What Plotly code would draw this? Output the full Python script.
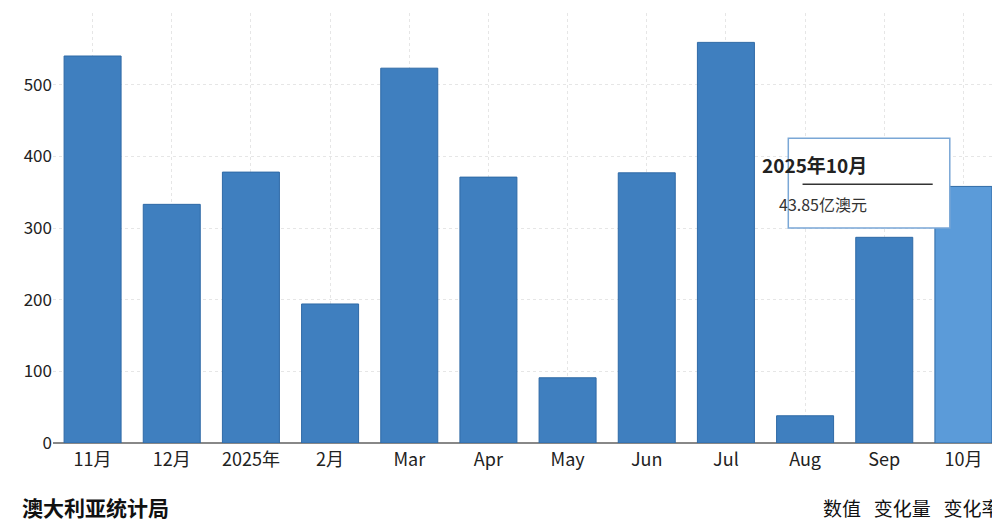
import plotly.graph_objects as go

categories = ["11月","12月","2025年","2月","Mar","Apr","May","Jun","Jul","Aug","Sep","10月"]
values = [540, 333, 378, 194, 523, 371, 91, 377, 559, 38, 287, 358]
colors = ["#3f7fbf"]*11 + ["#5b9bd9"]

fig = go.Figure(go.Bar(x=categories, y=values, marker=dict(color=colors, line=dict(color="#2f6aa6", width=1)), hoverinfo="skip"))
fig.update_layout(
    width=1000, height=521, margin=dict(l=45, r=5, t=5, b=86),
    paper_bgcolor="white", plot_bgcolor="white", bargap=0.28, showlegend=False,
    font=dict(family="Noto Sans CJK SC, Roboto", color="#333"),
    xaxis=dict(showgrid=True, gridcolor="#e6e6e6", griddash="dot", tickfont=dict(size=18, color="#222"),
               linecolor="#888", showline=True, ticks="", automargin=False),
    yaxis=dict(range=[0, 600], gridcolor="#e6e6e6", griddash="dot", tickfont=dict(size=17, color="#222"),
               zeroline=True, zerolinecolor="#888", tickvals=[0,100,200,300,400,500], automargin=False),
)
fig.add_annotation(xref="paper", yref="paper", x=-0.035, y=-0.15, xanchor="left", yanchor="middle",
                   text="<b>澳大利亚统计局</b>", showarrow=False, font=dict(size=21, color="#111"))
fig.add_annotation(xref="paper", yref="paper", x=1.0, y=-0.15, xanchor="right", yanchor="middle",
                   text="数值   变化量   变化率", showarrow=False, font=dict(size=19, color="#111"))
# tooltip
fig.add_shape(type="rect", xref="paper", yref="paper", x0=0.774, x1=0.944, y0=0.50, y1=0.709,
              line=dict(color="#7aa7d6", width=1.5), fillcolor="white", layer="above")
fig.add_shape(type="line", xref="paper", yref="paper", x0=0.789, x1=0.926, y0=0.602, y1=0.602,
              line=dict(color="#333", width=1.5), layer="above")
fig.add_annotation(xref="paper", yref="paper", x=0.859, y=0.647, text="<b>2025年10月</b>", showarrow=False,
                   font=dict(size=19, color="#222"))
fig.add_annotation(xref="paper", yref="paper", x=0.859, y=0.555, text="43.85亿澳元", showarrow=False,
                   font=dict(size=16, color="#333"))
fig.write_html("out.html")
